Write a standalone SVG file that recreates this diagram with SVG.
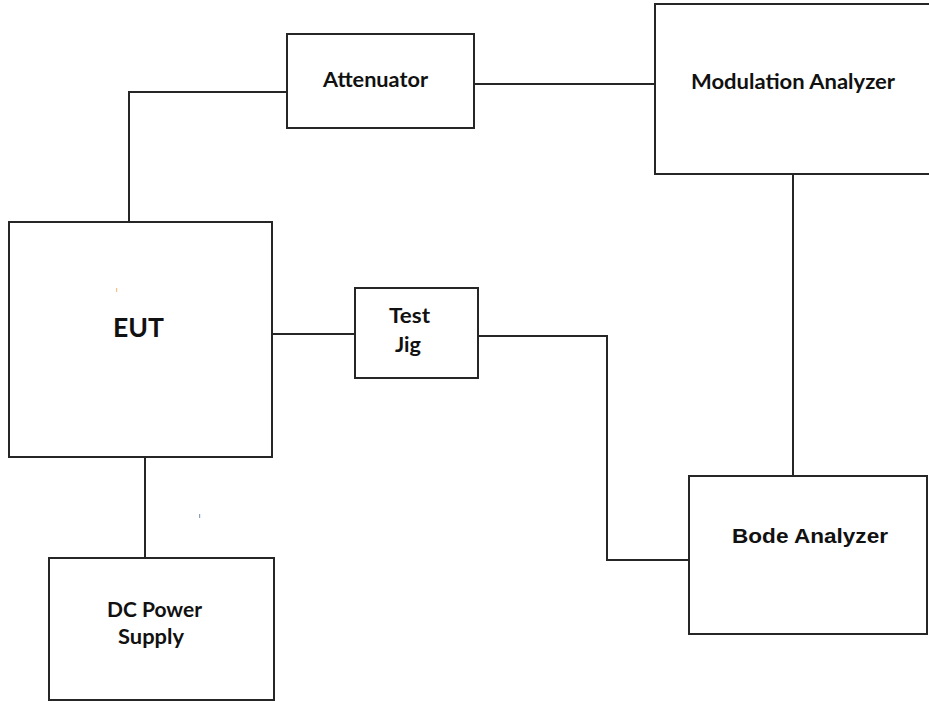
<svg xmlns="http://www.w3.org/2000/svg" width="929" height="702" viewBox="0 0 929 702">
  <style>
    .box { fill: #ffffff; stroke: #262626; stroke-width: 2; }
    .wire { fill: none; stroke: #262626; stroke-width: 2; }
    .lbl { font-family: Lato, "Open Sans", "Liberation Sans", sans-serif; font-weight: bold; fill: #111111; }
    .arial { font-family: "Liberation Sans", Arial, sans-serif; font-weight: bold; fill: #111111; }
  </style>
  <rect width="929" height="702" fill="#ffffff"/>

  <g id="connectors">
    <polyline class="wire" points="129,222 129,92 289,92"/>
    <line class="wire" x1="474" y1="84" x2="655" y2="84"/>
    <line class="wire" x1="793" y1="174" x2="793" y2="476"/>
    <line class="wire" x1="272" y1="334" x2="355" y2="334"/>
    <polyline class="wire" points="478,336 607,336 607,560 689,560"/>
    <line class="wire" x1="145" y1="457" x2="145" y2="558"/>
  </g>

  <g id="attenuator">
    <rect class="box" x="287" y="34" width="187" height="94"/>
    <text class="lbl" x="375.5" y="87" font-size="21" text-anchor="middle" textLength="105" lengthAdjust="spacingAndGlyphs">Attenuator</text>
  </g>

  <g id="modulation-analyzer">
    <rect class="box" x="655" y="4" width="285" height="170"/>
    <text class="lbl" x="793" y="89" font-size="21" text-anchor="middle" textLength="204" lengthAdjust="spacingAndGlyphs">Modulation Analyzer</text>
  </g>

  <g id="eut">
    <rect class="box" x="9" y="222" width="263" height="235"/>
    <text class="lbl" x="138.5" y="337" font-size="26" text-anchor="middle" textLength="51" lengthAdjust="spacingAndGlyphs">EUT</text>
    <rect x="116" y="288" width="1.2" height="4" fill="#f5c08a"/>
  </g>

  <g id="test-jig">
    <rect class="box" x="355" y="288" width="123" height="90"/>
    <text class="lbl" x="409.5" y="323" font-size="21" text-anchor="middle" textLength="41" lengthAdjust="spacingAndGlyphs">Test</text>
    <text class="lbl" x="408" y="352" font-size="21" text-anchor="middle" textLength="26" lengthAdjust="spacingAndGlyphs">Jig</text>
  </g>

  <g id="bode-analyzer">
    <rect class="box" x="689" y="476" width="238" height="158"/>
    <text class="arial" x="810" y="543" font-size="21" text-anchor="middle" textLength="156" lengthAdjust="spacingAndGlyphs">Bode Analyzer</text>
  </g>

  <g id="dc-power-supply">
    <rect class="box" x="49" y="558" width="225" height="142"/>
    <text class="lbl" x="154.5" y="617" font-size="21" text-anchor="middle" textLength="95" lengthAdjust="spacingAndGlyphs">DC Power</text>
    <text class="lbl" x="151" y="644" font-size="21" text-anchor="middle" textLength="66" lengthAdjust="spacingAndGlyphs">Supply</text>
    <rect x="199" y="514" width="1.2" height="4" fill="#8aa0c0"/>
  </g>
</svg>
